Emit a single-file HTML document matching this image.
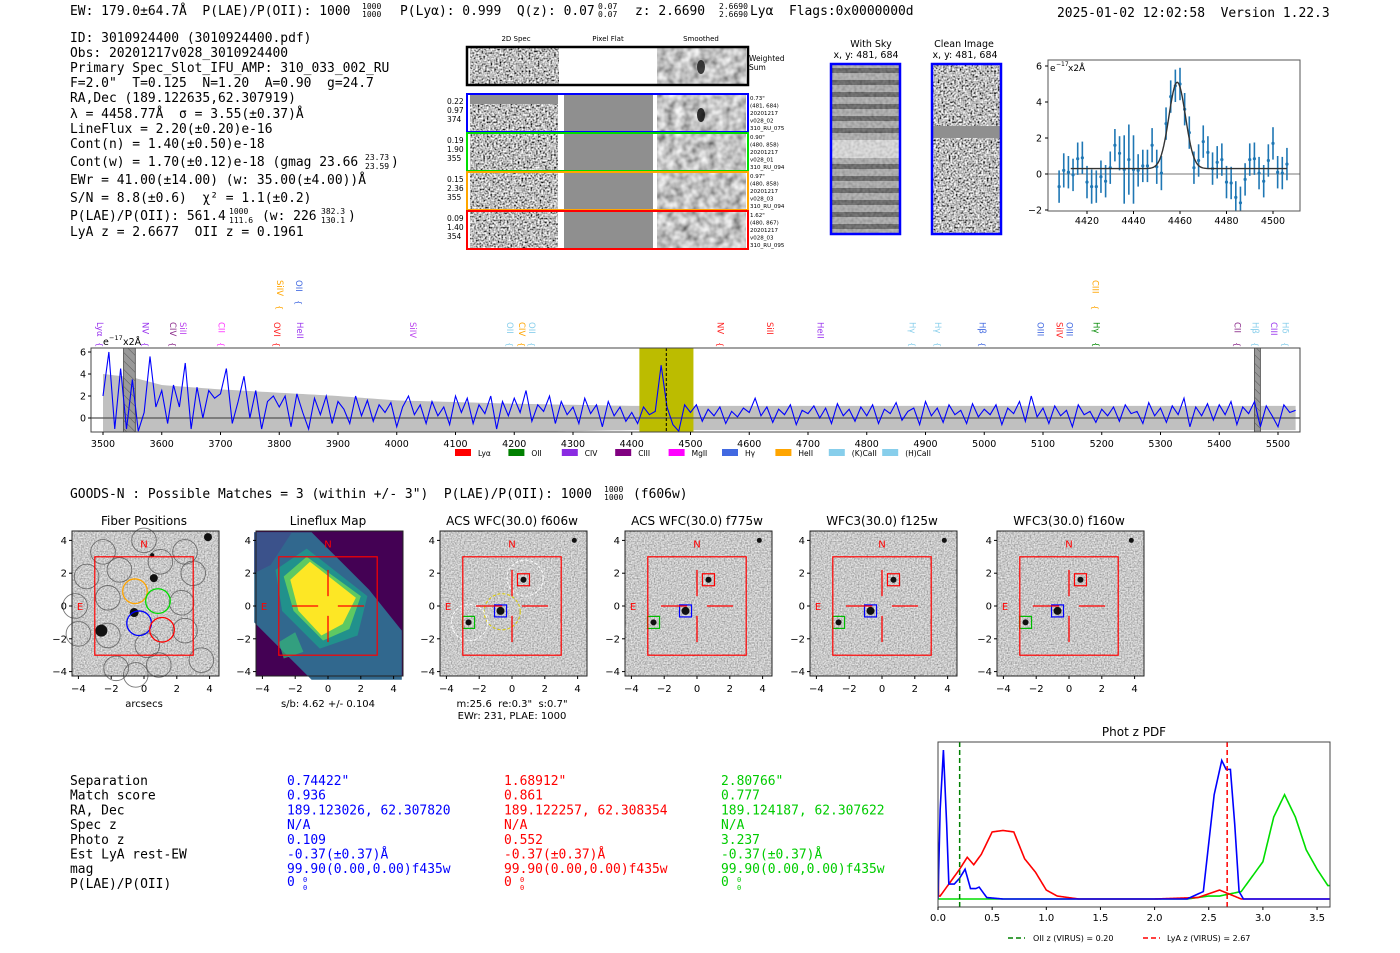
<!DOCTYPE html>
<html><head><meta charset="utf-8">
<style>
html,body{margin:0;padding:0;background:#fff;}
svg{display:block;}
text{white-space:pre;}
.m{font-family:"DejaVu Sans Mono","Liberation Mono",monospace;font-size:12.95px;fill:#000;}
.m .sup{font-size:8px;}
.s{font-family:"DejaVu Sans","Liberation Sans",sans-serif;}
</style></head>
<body>
<svg id="root" width="1400" height="953" viewBox="0 0 1400 953" xmlns="http://www.w3.org/2000/svg">
<defs>
<filter id="nz" filterUnits="objectBoundingBox" x="0" y="0" width="1" height="1"><feTurbulence type="fractalNoise" baseFrequency="0.55" numOctaves="1" seed="4"/><feColorMatrix type="matrix" values="2.2 0 0 0 -0.6  2.2 0 0 0 -0.6  2.2 0 0 0 -0.6  0 0 0 0 1"/></filter>
<filter id="nzs" filterUnits="objectBoundingBox" x="0" y="0" width="1" height="1"><feTurbulence type="fractalNoise" baseFrequency="0.12" numOctaves="2" seed="9"/><feColorMatrix type="matrix" values="1.1 0 0 0 0.0  1.1 0 0 0 0.0  1.1 0 0 0 0.0  0 0 0 0 1"/></filter>
<filter id="nzc" filterUnits="objectBoundingBox" x="0" y="0" width="1" height="1"><feTurbulence type="fractalNoise" baseFrequency="0.7" numOctaves="1" seed="2"/><feColorMatrix type="matrix" values="1.0 0 0 0 0.08  1.0 0 0 0 0.08  1.0 0 0 0 0.08  0 0 0 0 1"/></filter>
<filter id="nzw" filterUnits="objectBoundingBox" x="0" y="0" width="1" height="1"><feTurbulence type="fractalNoise" baseFrequency="0.35" numOctaves="1" seed="6"/><feColorMatrix type="matrix" values="1.1 0 0 0 0.05  1.1 0 0 0 0.05  1.1 0 0 0 0.05  0 0 0 0 1"/></filter>
<pattern id="hatch" width="6" height="6" patternUnits="userSpaceOnUse" patternTransform="rotate(-45)"><rect width="6" height="6" fill="#999"/><line x1="0" y1="0" x2="0" y2="6" stroke="#555" stroke-width="1"/></pattern>
<clipPath id="specclip"><rect x="91" y="348" width="1209" height="84"/></clipPath>
<clipPath id="zclip"><rect x="1048" y="60" width="252" height="151"/></clipPath>
<clipPath id="pclip"><rect x="938" y="742" width="392" height="165"/></clipPath>
</defs>

<g class="m">
<text x="70" y="15">EW: 179.0±64.7Å  P(LAE)/P(OII): 1000</text>
<text class="sup" x="362" y="9">1000</text><text class="sup" x="362" y="17">1000</text>
<text x="400" y="15">P(Lyα): 0.999  Q(z): 0.07</text>
<text class="sup" x="598" y="9">0.07</text><text class="sup" x="598" y="17">0.07</text>
<text x="635" y="15">z: 2.6690</text>
<text class="sup" x="719" y="9">2.6690</text><text class="sup" x="719" y="17">2.6690</text>
<text x="750" y="15">Lyα  Flags:0x0000000d</text>
<text x="1057" y="17">2025-01-02 12:02:58  Version 1.22.3</text>
</g>
<g class="m">
<text x="70" y="42">ID: 3010924400 (3010924400.pdf)</text>
<text x="70" y="57">Obs: 20201217v028_3010924400</text>
<text x="70" y="72">Primary Spec_Slot_IFU_AMP: 310_033_002_RU</text>
<text x="70" y="87">F=2.0"  T=0.125  N=1.20  A=0.90  g=24.7</text>
<text x="70" y="102">RA,Dec (189.122635,62.307919)</text>
<text x="70" y="118">λ = 4458.77Å  σ = 3.55(±0.37)Å</text>
<text x="70" y="133">LineFlux = 2.20(±0.20)e-16</text>
<text x="70" y="148">Cont(n) = 1.40(±0.50)e-18</text>
<text x="70" y="166">Cont(w) = 1.70(±0.12)e-18 (gmag 23.66</text>
<text class="sup" x="365" y="160">23.73</text><text class="sup" x="365" y="169">23.59</text>
<text x="391" y="166">)</text>
<text x="70" y="184">EWr = 41.00(±14.00) (w: 35.00(±4.00))Å</text>
<text x="70" y="202">S/N = 8.8(±0.6)  χ² = 1.1(±0.2)</text>
<text x="70" y="220">P(LAE)/P(OII): 561.4</text>
<text class="sup" x="229" y="214">1000</text><text class="sup" x="229" y="223">111.6</text>
<text x="262" y="220">(w: 226</text>
<text class="sup" x="321" y="214">382.3</text><text class="sup" x="321" y="223">130.1</text>
<text x="348" y="220">)</text>
<text x="70" y="236">LyA z = 2.6677  OII z = 0.1961</text>
</g>

<g id="spec2d" class="s" font-size="7">
<text x="516" y="41" text-anchor="middle">2D Spec</text>
<text x="608" y="41" text-anchor="middle">Pixel Flat</text>
<text x="701" y="41" text-anchor="middle">Smoothed</text>
<rect x="470" y="48" width="89" height="36" filter="url(#nz)"/>
<rect x="657" y="48" width="89" height="36" filter="url(#nzs)"/>
<ellipse cx="701" cy="67" rx="4" ry="7" fill="#111" opacity="0.8"/>
<rect x="467" y="47" width="281" height="38" fill="none" stroke="#000" stroke-width="2.5"/>
<text x="749" y="61" font-size="7.5">Weighted</text><text x="749" y="70" font-size="7.5">Sum</text>
<text x="871" y="47" text-anchor="middle" font-size="9.5">With Sky</text>
<text x="866" y="58" text-anchor="middle" font-size="9.5">x, y: 481, 684</text>
<text x="964" y="47" text-anchor="middle" font-size="9.5">Clean Image</text>
<text x="965" y="58" text-anchor="middle" font-size="9.5">x, y: 481, 684</text>
</g>

<g id="spec"></g>
<g id="zoom"></g>

<g class="m">
<text x="70" y="498">GOODS-N : Possible Matches = 3 (within +/- 3")  P(LAE)/P(OII): 1000</text>
<text class="sup" x="604" y="492">1000</text><text class="sup" x="604" y="500">1000</text>
<text x="633" y="498">(f606w)</text>
</g>

<g id="cutouts"></g>

<g class="m">
<g id="tab"></g>
</g>

<g id="pdf"></g>
</svg>

<script>
const specStart = 3500, specStep = 10;
const specFlux = [2,6,-1,4.5,-1,3.5,-1.2,0.5,5.6,1,
2.5,-0.5,3,1,5,-1,2.8,0,2.5,1.8,
2.2,4.5,-0.5,1.5,3.8,0,2.5,-1,1.5,2,
1,2,-0.8,2.2,0.5,-1,1.8,0.3,2,-0.5,
1.5,0.8,-0.5,2,0.2,1.6,-0.3,1.2,0.5,1.4,
-0.8,1,2,0.3,1.2,-0.5,1.5,0.2,1,-0.6,
2,0.5,1.8,-0.5,1.2,0.4,2,-1,1.5,0.2,
1.8,0.5,2.5,-0.3,1.2,0.6,2,-0.5,1.5,0.3,
1,-0.5,1.8,0.4,1.2,-0.8,1.5,0.2,1,-0.3,
0.5,-0.5,1,0.3,0.6,4.8,1,-0.6,-1.2,1.2,
0.5,1.2,-0.3,0.8,0.2,1,-0.5,0.6,0.1,0.9,
0.5,1.8,0.2,1,-0.4,0.8,0.3,1.2,-0.6,0.7,
0.4,1.1,0,0.9,-0.5,1.3,0.2,0.8,-0.3,1,
0.2,1.2,-0.5,0.8,0.4,1.4,-0.2,0.6,0.9,-0.6,
1.5,0.2,0.9,-0.4,1.2,0.3,0.7,-0.5,1.3,0.1,
0.8,0.3,1.2,-0.6,0.9,0.4,1.5,-0.3,2,0.1,
0.9,-0.5,1.1,0.2,0.7,-0.8,1.2,0.3,0.6,-0.4,
0.8,0.2,1,-0.3,1.2,0.4,0.6,-0.5,1.4,0.2,
0.9,-0.4,1.1,0.3,1.8,-0.8,1,0.2,1.3,-0.2,
1.2,0.3,1.5,-0.6,1,0.4,1.5,-0.8,1.1,0.2,
-0.8,1.2,0.5,0.7];
const errWave = [3500,3550,3600,3700,3800,3900,4000,4200,4400,4600,5000,5530];
const errVal = [4,3.7,3,2.6,2.3,2,1.6,1.3,1.1,1.1,1.1,1.1];
const specXTicks = [3500,3600,3700,3800,3900,4000,4100,4200,4300,4400,4500,4600,4700,4800,4900,5000,5100,5200,5300,5400,5500];
const specYTicks = [0,2,4,6];
const lineNames = ["Lyα","NV","CIV","SiII","CII","OVI","SiIV","OII","HeII","SiIV","OII","CIV","OII","NV","SiII","HeII","Hγ","Hγ","Hβ","OIII","SiIV","OIII","CIII","Hγ","CII","Hβ","CIII","Hδ"];
const lineWave = [3495,3572,3619,3636,3702,3796,3801,3834,3835,4028,4193,4213,4230,4551,4635,4721,4878,4921,4997,5096,5128,5145,5189,5191,5431,5462,5493,5513];
const lineRow = [0,0,0,0,0,0,1,1,0,0,0,0,0,0,0,0,0,0,0,0,0,0,1,0,0,0,0,0];
const lineColor = ["#9933ee","#9933ee","#8a2a8a","#bb44ee","#ff33ff","#ff2222","#ffa500","#4169e1","#9933ee","#bb44ee","#87ceeb","#ffa500","#87ceeb","#ff2222","#ff2222","#9933ee","#87ceeb","#87ceeb","#4169e1","#4169e1","#ff2222","#4169e1","#ffa500","#008800","#8a2a8a","#87ceeb","#9933ee","#87ceeb"];
const legendNames = ["Lyα","OII","CIV","CIII","MgII","Hγ","HeII","(K)CaII","(H)CaII"];
const legendColors = ["#ff0000","#008000","#8a2be2","#800080","#ff00ff","#4169e1","#ffa500","#87ceeb","#87ceeb"];

const zWave = [4408,4410,4412,4414,4416,4418,4420,4422,4424,4426,4428,4430,4432,4434,4436,4438,4440,4442,4444,4446,4448,4450,4452,4454,4456,4458,4460,4462,4464,4466,4468,4470,4472,4474,4476,4478,4480,4482,4484,4486,4488,4490,4492,4494,4496,4498,4500,4502,4504,4506];
const zFlux = [-0.7,0.2,0.1,-0.05,0.85,0.9,-0.45,-0.7,-0.7,-0.15,-0.4,0.35,1.6,1.15,0.25,0.8,0.25,0.2,0.45,0.45,1.6,0.4,0.05,2.8,4.3,4.9,5.0,3.6,2.3,0.35,0.75,1.8,1.2,0.3,0.65,0.8,-0.45,-0.5,-1.3,-1.6,-0.3,0.8,0.85,0.05,-0.4,0.75,1.7,0.1,0.05,0.55];
const zErr = [0.9,0.95,0.9,0.9,0.9,0.9,0.9,0.95,0.9,0.9,0.9,0.9,0.9,0.95,1.9,1.95,1.9,0.9,0.9,0.9,0.95,0.95,0.95,0.9,0.9,0.9,0.9,0.9,0.9,0.9,0.9,0.9,0.9,0.9,0.9,0.9,0.9,0.9,0.9,0.9,0.9,0.9,0.9,0.9,0.9,0.9,0.9,0.9,0.9,0.9];
const fitCenter = 4458.8, fitSigma = 3.55, fitAmp = 4.8, fitBase = 0.3;
const zXTicks = [4420,4440,4460,4480,4500];
const zYTicks = [-2,0,2,4,6];

const pdfBlueZ = [0,0.02,0.05,0.08,0.1,0.15,0.2,0.25,0.3,0.35,0.38,0.45,0.6,2.3,2.45,2.55,2.62,2.66,2.7,2.74,2.78,2.82,3.6];
const pdfBlueP = [0,0.6,1.0,0.5,0.1,0.1,0.14,0.2,0.07,0.07,0.08,0.01,0,0,0.05,0.7,0.93,0.87,0.87,0.5,0.05,0,0];
const pdfRedZ = [0,0.005,0.02,0.1,0.2,0.27,0.33,0.4,0.5,0.6,0.7,0.8,0.9,1.0,1.1,1.3,2.0,2.4,2.6,2.7,2.8,3.6];
const pdfRedP = [0.38,0.02,0.02,0.1,0.2,0.28,0.23,0.3,0.45,0.46,0.45,0.27,0.18,0.06,0.02,0,0,0.01,0.06,0.03,0,0];
const pdfGreenZ = [0,2.3,2.5,2.6,2.8,3.0,3.1,3.2,3.3,3.4,3.5,3.6];
const pdfGreenP = [0,0,0.02,0.02,0.05,0.25,0.55,0.7,0.55,0.33,0.2,0.09];
const pdfXTicks = [0,0.5,1,1.5,2,2.5,3,3.5];
const pdfOIIz = 0.20, pdfLyAz = 2.67;

const tabLabels = ["Separation","Match score","RA, Dec","Spec z","Photo z","Est LyA rest-EW","mag","P(LAE)/P(OII)"];
const tabBlue = ["0.74422\"","0.936","189.123026, 62.307820","N/A","0.109","-0.37(±0.37)Å","99.90(0.00,0.00)f435w","0"];
const tabRed = ["1.68912\"","0.861","189.122257, 62.308354","N/A","0.552","-0.37(±0.37)Å","99.90(0.00,0.00)f435w","0"];
const tabGreen = ["2.80766\"","0.777","189.124187, 62.307622","N/A","3.237","-0.37(±0.37)Å","99.90(0.00,0.00)f435w","0"];

const cutTitles = ["Fiber Positions","Lineflux Map","ACS WFC(30.0) f606w","ACS WFC(30.0) f775w","WFC3(30.0) f125w","WFC3(30.0) f160w"];
const cutTicks = [-4,-2,0,2,4];

const NS = "http://www.w3.org/2000/svg";
function mk(tag, attrs, parent){const e=document.createElementNS(NS,tag);for(const k in attrs)e.setAttribute(k,attrs[k]);parent.appendChild(e);return e;}
function txt(s, attrs, parent){const e=mk("text",attrs,parent);e.textContent=s;return e;}
function interp(xs,ys,x){if(x<=xs[0])return ys[0];for(let i=1;i<xs.length;i++){if(x<=xs[i]){const t=(x-xs[i-1])/(xs[i]-xs[i-1]);return ys[i-1]+t*(ys[i]-ys[i-1]);}}return ys[ys.length-1];}

const s2 = document.getElementById("spec2d");
const rowColors = ["#0000ff","#00dd00","#ffa500","#ff0000"];
const rowLeft = [["0.22","0.97","374"],["0.19","1.90","355"],["0.15","2.36","355"],["0.09","1.40","354"]];
const rowRight = [["0.73\"","(481, 684)","20201217","v028_02","310_RU_075"],["0.90\"","(480, 858)","20201217","v028_01","310_RU_094"],["0.97\"","(480, 858)","20201217","v028_03","310_RU_094"],["1.62\"","(480, 867)","20201217","v028_03","310_RU_095"]];
for(let r=0;r<4;r++){
  const y0=95+r*39;
  const g=mk("g",{},s2);
  
  
  mk("rect",{x:470,y:y0,width:88,height:37,filter:"url(#nz)"},g);
  mk("rect",{x:564,y:y0,width:89,height:37,fill:"#8f8f8f"},g);
  mk("rect",{x:657,y:y0,width:89,height:37,filter:"url(#nzs)"},g);
  if(r===0){mk("rect",{x:470,y:y0,width:88,height:9,fill:"#909090"},g);mk("ellipse",{cx:701,cy:y0+20,rx:4,ry:7,fill:"#111",opacity:0.85},g);}
  mk("rect",{x:467,y:y0-1,width:281,height:38,fill:"none",stroke:rowColors[r],"stroke-width":2},g);
  rowLeft[r].forEach((s,i)=>txt(s,{x:447,y:y0+9+i*9,"font-size":7.5},g));
  rowRight[r].forEach((s,i)=>txt(s,{x:750,y:y0+5+i*7.5,"font-size":5.5},g));
}
const sky=mk("g",{},s2);


mk("rect",{x:832,y:65,width:67,height:168,fill:"#9a9a9a"},sky);
for(let i=0;i<14;i++){ if(i===6||i===7) continue; mk("rect",{x:832,y:68+i*12,width:67,height:5,fill:"#2a2a2a",opacity:0.85},sky);}
mk("rect",{x:832,y:140,width:67,height:18,fill:"#d8d8d8"},sky);
mk("rect",{x:832,y:65,width:67,height:168,filter:"url(#nzw)",opacity:0.35},sky);
mk("rect",{x:831,y:64,width:69,height:170,fill:"none",stroke:"#0000ff","stroke-width":2.5},sky);
const cln=mk("g",{},s2);


mk("rect",{x:933,y:65,width:67,height:168,filter:"url(#nz)"},cln);
mk("rect",{x:933,y:126,width:67,height:12,fill:"#8f8f8f"},cln);
mk("rect",{x:932,y:64,width:69,height:170,fill:"none",stroke:"#0000ff","stroke-width":2.5},cln);

const sp=document.getElementById("spec");
const sx=w=>103+(w-3500)*0.5875, sy=v=>418-v*11;
lineNames.forEach((n,i)=>{
  const x=sx(lineWave[i]); const yTop=lineRow[i]?280:322;
  const g=mk("g",{},sp);
  
  
  txt(n,{x:0,y:0,transform:`translate(${x-3},${yTop}) rotate(90)`,class:"s","font-size":8.5,fill:lineColor[i]},g);
  txt("{",{x:0,y:0,transform:`translate(${x-3},${yTop+(n.length>3?25:20)}) rotate(90)`,class:"s","font-size":8,fill:lineColor[i]},g);
});
mk("rect",{x:91,y:348,width:1209,height:84,fill:"#fff"},sp);
const cg=mk("g",{"clip-path":"url(#specclip)"},sp);
let up=[],lo=[];
for(let w=3500;w<=5530;w+=10){const e=interp(errWave,errVal,w);up.push(sx(w)+","+sy(e));lo.unshift(sx(w)+","+sy(-e));}
const band=mk("polygon",{points:up.concat(lo).join(" "),fill:"#c0c0c0"},cg);


const yreg=mk("rect",{x:sx(4413),y:348,width:sx(4505)-sx(4413),height:84,fill:"#bcbc00"},cg);


mk("rect",{x:sx(3535),y:348,width:sx(3555)-sx(3535),height:84,fill:"url(#hatch)",stroke:"#444","stroke-width":0.8},cg);
mk("rect",{x:sx(5460),y:348,width:sx(5470)-sx(5460),height:84,fill:"url(#hatch)",stroke:"#444","stroke-width":0.8},cg);
mk("line",{x1:91,x2:1300,y1:sy(0),y2:sy(0),stroke:"#555","stroke-width":1.2},cg);
const fp=mk("polyline",{points:specFlux.map((v,i)=>sx(specStart+i*specStep)+","+sy(v)).join(" "),fill:"none",stroke:"#0000ff","stroke-width":1.1},cg);


mk("line",{x1:sx(4458.8),x2:sx(4458.8),y1:348,y2:432,stroke:"#000","stroke-dasharray":"3,2","stroke-width":1},cg);
mk("rect",{x:91,y:348,width:1209,height:84,fill:"none",stroke:"#444","stroke-width":1},sp);
specXTicks.forEach(t=>{mk("line",{x1:sx(t),x2:sx(t),y1:432,y2:435,stroke:"#000"},sp);const e=txt(t,{x:sx(t),y:447,"text-anchor":"middle",class:"s","font-size":9.5},sp);});
specYTicks.forEach(t=>{mk("line",{x1:88,x2:91,y1:sy(t),y2:sy(t),stroke:"#000"},sp);txt(t,{x:86,y:sy(t)+3.5,"text-anchor":"end",class:"s","font-size":9.5},sp);});
txt("e",{x:103,y:345,class:"s","font-size":9.5},sp);txt("−17",{x:109,y:340,class:"s","font-size":6.5},sp);txt("x2Å",{x:123,y:345,class:"s","font-size":9.5},sp);
legendNames.forEach((n,i)=>{
  const x=455+i*53.4; const g=mk("g",{},sp);
  
  
  mk("rect",{x:x,y:449,width:16,height:7,fill:legendColors[i]},g);
  txt(n,{x:x+23,y:456,class:"s","font-size":7.5},g);
});

const zp=document.getElementById("zoom");
const zx=w=>1087+(w-4420)*2.325, zy=v=>174-v*18;
const zc=mk("g",{"clip-path":"url(#zclip)"},zp);
mk("line",{x1:1048,x2:1300,y1:zy(0),y2:zy(0),stroke:"#777","stroke-width":1},zc);
zWave.forEach((w,i)=>{
  const g=mk("g",{},zc);
  
  
  mk("line",{x1:zx(w),x2:zx(w),y1:zy(zFlux[i]-zErr[i]),y2:zy(zFlux[i]+zErr[i]),stroke:"#1f77b4","stroke-width":1.6},g);
  mk("circle",{cx:zx(w),cy:zy(zFlux[i]),r:1.6,fill:"#1f77b4"},g);
});
let fpts=[];for(let w=4413;w<=4506;w+=0.5){fpts.push(zx(w)+","+zy(fitBase+fitAmp*Math.exp(-0.5*((w-fitCenter)/fitSigma)**2)));}
const fit=mk("polyline",{points:fpts.join(" "),fill:"none",stroke:"#333","stroke-width":1.4},zc);


mk("rect",{x:1048,y:60,width:252,height:151,fill:"none",stroke:"#555"},zp);
zXTicks.forEach(t=>{mk("line",{x1:zx(t),x2:zx(t),y1:211,y2:214,stroke:"#000"},zp);txt(t,{x:zx(t),y:224,"text-anchor":"middle",class:"s","font-size":9.5},zp);});
zYTicks.forEach(t=>{mk("line",{x1:1045,x2:1048,y1:zy(t),y2:zy(t),stroke:"#000"},zp);txt(t<0?"−"+(-t):t,{x:1042,y:zy(t)+3.5,"text-anchor":"end",class:"s","font-size":9.5},zp);});
txt("e",{x:1050,y:71,class:"s","font-size":9},zp);txt("−17",{x:1056,y:66,class:"s","font-size":6},zp);txt("x2Å",{x:1068,y:71,class:"s","font-size":9},zp);

const cu=document.getElementById("cutouts");
const lefts=[72,256,440,625,810,997];
lefts.forEach((L,k)=>{
  const cx=L+72, cy=606, sc=16.4;
  const px=v=>cx+v*sc, py=v=>cy-v*sc;
  const g=mk("g",{},cu);
  
  
  txt(cutTitles[k],{x:cx,y:525,"text-anchor":"middle",class:"s","font-size":12},g);
  if(k===1){
    mk("rect",{x:L,y:531,width:147,height:145,fill:"#440154"},g);
    mk("polygon",{points:[[px(-4.5),py(4.5)],[px(-1),py(4.5)],[px(2.5),py(1)],[px(4.5),py(-1.5)],[px(4.5),py(-4.5)],[px(-1),py(-4.5)],[px(-4.5),py(-1)]].join(" "),fill:"#31688e"},g);
    mk("polygon",{points:[[px(-4.5),py(4.5)],[px(-2.2),py(4.5)],[px(-3.5),py(2.5)],[px(-4.5),py(2)]].join(" "),fill:"#3b528b"},g);
    mk("polygon",{points:[[px(-3.2),py(2.2)],[px(-1.3),py(3.5)],[px(2.4),py(0.6)],[px(1.8),py(-1.8)],[px(-0.5),py(-2.6)],[px(-2.8),py(-0.3)]].join(" "),fill:"#21918c"},g);
    mk("polygon",{points:[[px(-2.7),py(1.8)],[px(-1.3),py(3.0)],[px(2.0),py(0.6)],[px(1.3),py(-1.4)],[px(-0.3),py(-2.1)],[px(-2.1),py(-0.3)]].join(" "),fill:"#5ec962"},g);
    mk("polygon",{points:[[px(-2.3),py(1.6)],[px(-1.1),py(2.7)],[px(1.7),py(0.5)],[px(0.9),py(-1.1)],[px(-0.4),py(-1.8)],[px(-1.8),py(-0.3)]].join(" "),fill:"#fde725"},g);
    mk("polygon",{points:[[px(-3),py(-2.2)],[px(-2),py(-1.6)],[px(-1.5),py(-2.8)],[px(-2.7),py(-3.2)]].join(" "),fill:"#35b779",opacity:0.7},g);
  } else {
    mk("rect",{x:L,y:531,width:147,height:145,filter:"url(#nzc)"},g);
  }
  if(k===0){
    const fib=[[-2.5,3.3],[0,4],[2.5,3.3],[-3.5,1.8],[-1.5,2.2],[1,2.7],[3,2],[-4.2,0],[-2.2,0.5],[2.3,0.2],[-4,-1.7],[-2.2,-1.8],[0.2,-2.4],[2.5,-1.5],[-1.7,-3.8],[0.9,-3.6],[3.5,-3.3],[-0.5,-4.2]];
    fib.forEach(f=>mk("circle",{cx:px(f[0]),cy:py(f[1]),r:0.75*sc,fill:"none",stroke:"#555","stroke-width":0.9,opacity:0.8},g));
    [[-2.6,-1.5,6],[-0.6,-0.4,4.5],[0.6,1.7,4],[3.9,4.2,4],[0.5,3.1,2]].forEach(b=>mk("circle",{cx:px(b[0]),cy:py(b[1]),r:b[2],fill:"#111"},g));
    [[-0.55,0.9,"#ffa500"],[0.85,0.3,"#00dd00"],[-0.3,-1.05,"#0000ff"],[1.1,-1.45,"#ff0000"]].forEach(c=>mk("circle",{cx:px(c[0]),cy:py(c[1]),r:0.75*sc,fill:"none",stroke:c[2],"stroke-width":1.3},g));
    txt("arcsecs",{x:cx,y:707,"text-anchor":"middle",class:"s","font-size":10},g);
  }
  if(k===1) txt("s/b: 4.62 +/- 0.104",{x:cx,y:707,"text-anchor":"middle",class:"s","font-size":10},g);
  if(k>=2){
    [[-0.7,-0.3,4],[0.7,1.6,3],[-2.65,-1,3],[3.8,4,2.5]].forEach(b=>mk("circle",{cx:px(b[0]),cy:py(b[1]),r:b[2],fill:"#111"},g));
    if(k===2){
      mk("circle",{cx:px(-0.6),cy:py(-0.35),r:1.1*sc,fill:"none",stroke:"#ddcc00","stroke-width":1,"stroke-dasharray":"3,2"},g);
      mk("circle",{cx:px(0.8),cy:py(1.7),r:1.1*sc,fill:"none",stroke:"#fff","stroke-width":1,"stroke-dasharray":"3,2"},g);
      mk("circle",{cx:px(-2.6),cy:py(-1),r:1.1*sc,fill:"none",stroke:"#fff","stroke-width":1,"stroke-dasharray":"3,2"},g);
      txt("m:25.6  re:0.3\"  s:0.7\"",{x:cx,y:707,"text-anchor":"middle",class:"s","font-size":10},g);
      txt("EWr: 231, PLAE: 1000",{x:cx,y:719,"text-anchor":"middle",class:"s","font-size":10},g);
    }
    [[-0.7,-0.3,"#0000ff"],[0.7,1.6,"#ff0000"],[-2.65,-1,"#00bb00"]].forEach(s=>mk("rect",{x:px(s[0])-6,y:py(s[1])-6,width:12,height:12,fill:"none",stroke:s[2],"stroke-width":1.2},g));
  }
  mk("rect",{x:px(-3),y:py(3),width:6*sc,height:6*sc,fill:"none",stroke:"#ff0000","stroke-width":1.2},g);
  if(k>=1){
    [[-2.2,0,-0.6,0],[0.6,0,2.2,0],[0,0.6,0,2.2],[0,-0.6,0,-2.2]].forEach(l=>mk("line",{x1:px(l[0]),y1:py(l[1]),x2:px(l[2]),y2:py(l[3]),stroke:"#ff0000","stroke-width":1.3},g));
  }
  txt("N",{x:cx,y:py(3.8)+4,"text-anchor":"middle",class:"s","font-size":10,fill:"#ff0000"},g);
  txt("E",{x:px(-3.9),y:cy+4,"text-anchor":"middle",class:"s","font-size":10,fill:"#ff0000"},g);
  mk("rect",{x:L,y:531,width:147,height:145,fill:"none",stroke:"#222","stroke-width":1},g);
  cutTicks.forEach(t=>{
    const lab=t<0?"−"+(-t):""+t;
    mk("line",{x1:px(t),x2:px(t),y1:676,y2:679,stroke:"#000"},g);
    txt(lab,{x:px(t),y:692,"text-anchor":"middle",class:"s","font-size":10},g);
    mk("line",{x1:L-3,x2:L,y1:py(t),y2:py(t),stroke:"#000"},g);
    txt(lab,{x:L-5,y:py(t)+3.5,"text-anchor":"end",class:"s","font-size":10},g);
  });
});

const tb=document.getElementById("tab");
tabLabels.forEach((s,i)=>{
  const y=785+i*14.7;
  const e=txt(s,{x:70,y:y},tb);
  [[tabBlue,287,"#0000ff"],[tabRed,504,"#ff0000"],[tabGreen,721,"#00cc00"]].forEach(c=>{
    const v=txt(c[0][i],{x:c[1],y:y-(i===7?2:0),fill:c[2]},tb);
    
    
    if(i===7){txt("0",{x:c[1]+16,y:y-6,fill:c[2],style:"font-size:7px"},tb);txt("0",{x:c[1]+16,y:y+2,fill:c[2],style:"font-size:7px"},tb);}
  });
});

const pd=document.getElementById("pdf");
const qx=z=>938+z*108.3, qy=p=>899-p*149;
txt("Phot z PDF",{x:1134,y:736,"text-anchor":"middle",class:"s","font-size":12},pd);
const pc=mk("g",{"clip-path":"url(#pclip)"},pd);
function curve(zs,ps,col,name){let pts=[];for(let z=0;z<=3.62;z+=0.005)pts.push(qx(z)+","+qy(interp(zs,ps,z)));const e=mk("polyline",{points:pts.join(" "),fill:"none",stroke:col,"stroke-width":1.6},pc);}
curve(pdfGreenZ,pdfGreenP,"#00dd00","pdf-green");
curve(pdfRedZ,pdfRedP,"#ff0000","pdf-red");
curve(pdfBlueZ,pdfBlueP,"#0000ff","pdf-blue");
mk("line",{x1:qx(pdfOIIz),x2:qx(pdfOIIz),y1:742,y2:907,stroke:"#008000","stroke-width":1.5,"stroke-dasharray":"5,3"},pc);
mk("line",{x1:qx(pdfLyAz),x2:qx(pdfLyAz),y1:742,y2:907,stroke:"#ff0000","stroke-width":1.5,"stroke-dasharray":"5,3"},pc);
mk("rect",{x:938,y:742,width:392,height:165,fill:"none",stroke:"#444"},pd);
pdfXTicks.forEach(t=>{mk("line",{x1:qx(t),x2:qx(t),y1:907,y2:910,stroke:"#000"},pd);txt(t.toFixed(1),{x:qx(t),y:921,"text-anchor":"middle",class:"s","font-size":10},pd);});
const lg=mk("g",{},pd);


mk("line",{x1:1008,x2:1025,y1:938,y2:938,stroke:"#008000","stroke-width":1.5,"stroke-dasharray":"5,3"},lg);
txt("OII z (VIRUS) = 0.20",{x:1033,y:941,class:"s","font-size":8},lg);
mk("line",{x1:1143,x2:1160,y1:938,y2:938,stroke:"#ff0000","stroke-width":1.5,"stroke-dasharray":"5,3"},lg);
txt("LyA z (VIRUS) = 2.67",{x:1167,y:941,class:"s","font-size":8},lg);
</script>
</body></html>
